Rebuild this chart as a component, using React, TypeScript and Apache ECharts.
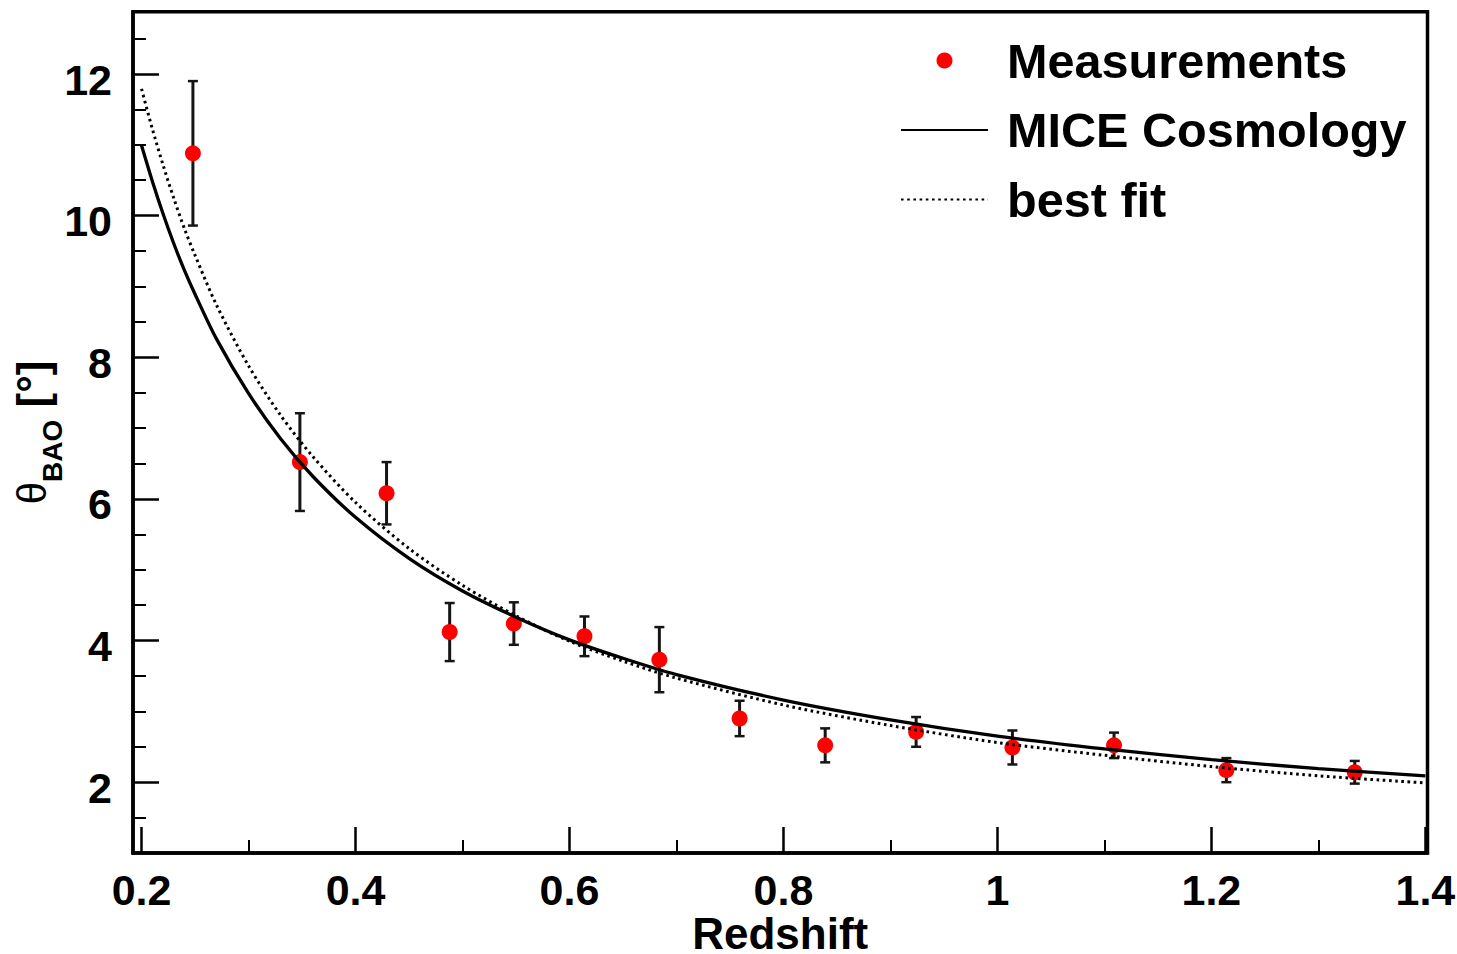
import React, { useEffect, useRef } from "react";
import * as echarts from "echarts";

// Measurements (redshift, theta_BAO in degrees, symmetric error)
const measZ = [0.248, 0.348, 0.429, 0.488, 0.548, 0.614, 0.684, 0.759, 0.839, 0.924, 1.014, 1.109, 1.214, 1.334];
const measTheta = [10.88, 6.52, 6.08, 4.12, 4.24, 4.06, 3.73, 2.9, 2.52, 2.71, 2.49, 2.52, 2.17, 2.14];
const measErr = [1.02, 0.69, 0.44, 0.41, 0.3, 0.28, 0.46, 0.25, 0.24, 0.21, 0.24, 0.18, 0.17, 0.16];

// Curves
const curveZ = [0.2, 0.21, 0.22, 0.23, 0.24, 0.25, 0.27, 0.3, 0.33, 0.36, 0.4, 0.45, 0.5, 0.55, 0.6, 0.65, 0.7, 0.8, 0.9, 1.0, 1.1, 1.2, 1.3, 1.4];
const miceTheta = [10.99, 10.49, 10.03, 9.61, 9.23, 8.89, 8.26, 7.49, 6.85, 6.32, 5.74, 5.16, 4.7, 4.33, 4.01, 3.75, 3.52, 3.16, 2.88, 2.65, 2.47, 2.32, 2.19, 2.09];
const bestFitTheta = [11.79, 11.23, 10.72, 10.25, 9.82, 9.44, 8.74, 7.88, 7.18, 6.6, 5.95, 5.3, 4.78, 4.35, 3.99, 3.71, 3.47, 3.09, 2.8, 2.56, 2.38, 2.22, 2.09, 1.99];

// Ticks
const xMajor = [0.2, 0.4, 0.6, 0.8, 1, 1.2, 1.4];
const xMinor = [0.3, 0.5, 0.7, 0.9, 1.1, 1.3];
const yMajor = [2, 4, 6, 8, 10, 12];
const yMinor = [1.5, 2.5, 3, 3.5, 4.5, 5, 5.5, 6.5, 7, 7.5, 8.5, 9, 9.5, 10.5, 11, 11.5, 12.5];

const FONT = "'Liberation Sans', Arial, Helvetica, sans-serif";
const HIDDEN = { color: "rgba(0,0,0,0)", borderColor: "rgba(0,0,0,0)", borderWidth: 0 };

export default function App() {
  const ref = useRef<HTMLDivElement>(null);

  useEffect(() => {
    if (!ref.current) return;
    const chart = echarts.init(ref.current, undefined, { renderer: "svg" });

    const xMin = 0.192, xMax = 1.402, yMin = 1, yMax = 12.88;

    const option: any = {
      animation: false,
      backgroundColor: "#ffffff",
      grid: {
        left: 133,
        right: 29.5,
        top: 11.7,
        bottom: 101,
        outerBoundsMode: "none",
        containLabel: false,
        show: true,
        borderColor: "#000",
        borderWidth: 3.5,
        backgroundColor: "transparent",
      },
      legend: {
        orient: "vertical",
        left: 900,
        top: 36,
        padding: 0,
        itemWidth: 87,
        itemHeight: 16,
        itemGap: 20.5,
        selectedMode: false,
        textStyle: {
          fontFamily: FONT,
          fontSize: 48.6,
          fontWeight: "bold",
          color: "#000",
          lineHeight: 48,
          padding: [0, 0, 0, 14],
        },
        data: [
          { name: "Measurements", icon: "circle" },
          { name: "MICE Cosmology", itemStyle: HIDDEN },
          { name: "best fit", itemStyle: HIDDEN },
        ],
      },
      xAxis: [
        {
          type: "value",
          min: xMin,
          max: xMax,
          position: "bottom",
          axisLine: { show: true, onZero: false, lineStyle: { color: "#000", width: 3.5 } },
          axisTick: { show: true, inside: true, length: 26, customValues: xMajor, lineStyle: { color: "#000", width: 2.5 } },
          axisLabel: {
            customValues: xMajor,
            formatter: (v: number) => String(v),
            fontFamily: FONT,
            fontSize: 43,
            fontWeight: "bold",
            color: "#000",
            margin: 15,
            lineHeight: 43,
          },
          splitLine: { show: false },
          name: "Redshift",
          nameLocation: "middle",
          nameMoveOverlap: false,
          nameGap: 65,
          nameTextStyle: { fontFamily: FONT, fontSize: 44, fontWeight: "bold", color: "#000", lineHeight: 30 },
        },
        {
          type: "value",
          min: xMin,
          max: xMax,
          position: "bottom",
          axisLine: { show: false },
          axisTick: { show: true, inside: true, length: 13, customValues: xMinor, lineStyle: { color: "#000", width: 2 } },
          axisLabel: { show: false },
          splitLine: { show: false },
        },
      ],
      yAxis: [
        {
          type: "value",
          min: yMin,
          max: yMax,
          position: "left",
          axisLine: { show: true, onZero: false, lineStyle: { color: "#000", width: 3.5 } },
          axisTick: { show: true, inside: true, length: 26, customValues: yMajor, lineStyle: { color: "#000", width: 2.5 } },
          axisLabel: {
            customValues: yMajor,
            formatter: (v: number) => "{v|" + String(v) + "}",
            margin: 21,
            rich: {
              v: { fontFamily: FONT, fontSize: 43, fontWeight: "bold", color: "#000", padding: [11, 0, 0, 0] },
            },
          },
          splitLine: { show: false },
          name: "{t|θ}{s|BAO}{u| [°]}",
          nameLocation: "middle",
          nameMoveOverlap: false,
          nameRotate: 90,
          nameGap: 67,
          nameTextStyle: {
            color: "#000",
            rich: {
              t: { fontFamily: FONT, fontSize: 40, fontWeight: "normal", color: "#000" },
              s: { fontFamily: FONT, fontSize: 28, fontWeight: "bold", color: "#000", padding: [40, 0, 0, 0] },
              u: { fontFamily: FONT, fontSize: 44, fontWeight: "bold", color: "#000" },
            },
          },
        },
        {
          type: "value",
          min: yMin,
          max: yMax,
          position: "left",
          axisLine: { show: false },
          axisTick: { show: true, inside: true, length: 13, customValues: yMinor, lineStyle: { color: "#000", width: 2 } },
          axisLabel: { show: false },
          splitLine: { show: false },
        },
      ],
      series: [
        {
          name: "errors",
          type: "custom",
          z: 2,
          silent: true,
          encode: { x: 0, y: [1, 2] },
          data: measZ.map((z, i) => [z, measTheta[i] - measErr[i], measTheta[i] + measErr[i]]),
          renderItem: (params: any, api: any) => {
            const z = api.value(0);
            const top = api.coord([z, api.value(2)]);
            const bot = api.coord([z, api.value(1)]);
            const w = 5;
            const stem = { stroke: "#151515", lineWidth: 3 };
            const cap = { stroke: "#151515", lineWidth: 2.5 };
            return {
              type: "group",
              children: [
                { type: "line", shape: { x1: top[0], y1: top[1], x2: bot[0], y2: bot[1] }, style: stem },
                { type: "line", shape: { x1: top[0] - w, y1: top[1], x2: top[0] + w, y2: top[1] }, style: cap },
                { type: "line", shape: { x1: bot[0] - w, y1: bot[1], x2: bot[0] + w, y2: bot[1] }, style: cap },
              ],
            };
          },
        },
        {
          name: "Measurements",
          type: "scatter",
          z: 3,
          symbol: "circle",
          symbolSize: 16,
          itemStyle: { color: "#ff0000", opacity: 1 },
          data: measZ.map((z, i) => [z, measTheta[i]]),
        },
        {
          name: "MICE Cosmology",
          type: "line",
          z: 4,
          symbol: "none",
          smooth: 0.3,
          lineStyle: { color: "#000", width: 3.3 },
          itemStyle: { color: "#000" },
          data: curveZ.map((z, i) => [z, miceTheta[i]]),
        },
        {
          name: "best fit",
          type: "line",
          z: 4,
          symbol: "none",
          smooth: 0.3,
          lineStyle: { color: "#000", width: 3, type: [2.6, 3.6] },
          itemStyle: { color: "#000" },
          data: curveZ.map((z, i) => [z, bestFitTheta[i]]),
        },
      ],
    };

    chart.setOption(option);
    return () => chart.dispose();
  }, []);

  return (
    <div
      ref={ref}
      style={{ position: "fixed", left: 0, top: 0, width: 1457, height: 954, background: "#fff" }}
    />
  );
}
